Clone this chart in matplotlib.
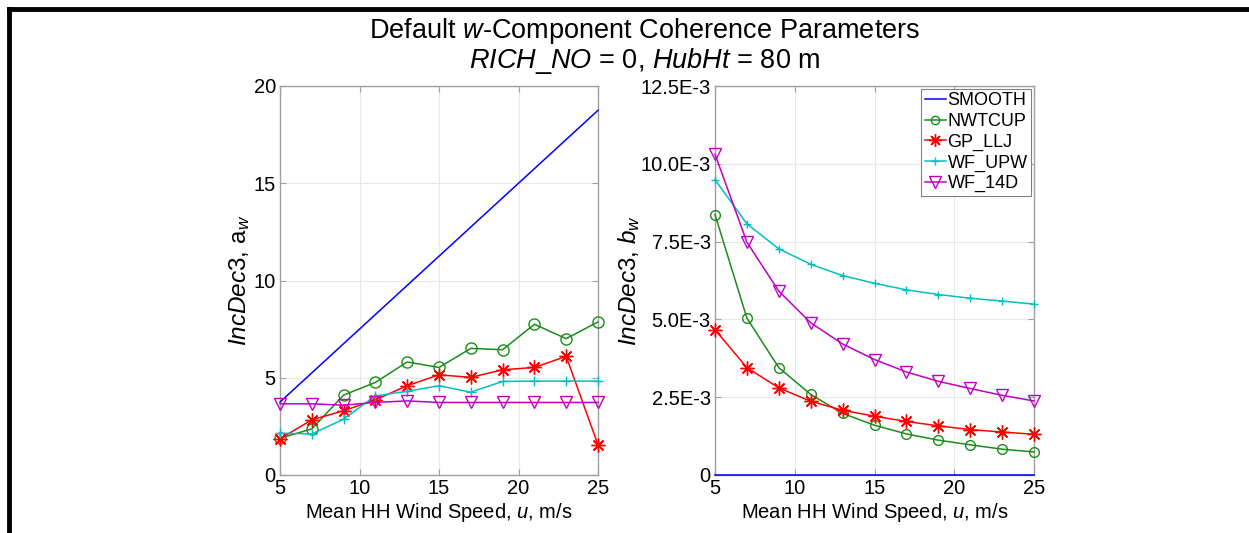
import matplotlib
matplotlib.use("Agg")
import matplotlib.pyplot as plt
from matplotlib.lines import Line2D
from matplotlib.ticker import FixedLocator, FuncFormatter

plt.rcParams['font.family'] = ['Liberation Sans', 'DejaVu Sans']
plt.rcParams['mathtext.fontset'] = 'custom'
plt.rcParams['mathtext.rm'] = 'Liberation Sans'
plt.rcParams['mathtext.it'] = 'Liberation Sans:italic'
plt.rcParams['mathtext.bf'] = 'Liberation Sans:bold'

# ---------------- data ----------------
wind_speed = [5, 7, 9, 11, 13, 15, 17, 19, 21, 23, 25]
series_names = ["SMOOTH", "NWTCUP", "GP_LLJ", "WF_UPW", "WF_14D"]

a_smooth = [3.75, 5.25, 6.75, 8.25, 9.75, 11.25, 12.75, 14.25, 15.75, 17.25, 18.75]
a_nwtcup = [1.89, 2.37, 4.11, 4.76, 5.81, 5.53, 6.51, 6.44, 7.75, 7.01, 7.87]
a_gp_llj = [1.86, 2.84, 3.30, 3.87, 4.59, 5.15, 5.02, 5.41, 5.53, 6.10, 1.55]
a_wf_upw = [2.15, 2.11, 2.87, 4.07, 4.30, 4.59, 4.26, 4.81, 4.83, 4.83, 4.83]
a_wf_14d = [3.66, 3.66, 3.59, 3.73, 3.81, 3.73, 3.73, 3.73, 3.73, 3.73, 3.73]

b_smooth = [0.0] * 11
b_nwtcup = [8.37e-3, 5.04e-3, 3.45e-3, 2.59e-3, 1.98e-3, 1.60e-3, 1.32e-3, 1.12e-3, 0.97e-3, 0.83e-3, 0.74e-3]
b_gp_llj = [4.67e-3, 3.45e-3, 2.80e-3, 2.37e-3, 2.08e-3, 1.89e-3, 1.72e-3, 1.58e-3, 1.46e-3, 1.38e-3, 1.31e-3]
b_wf_upw = [9.49e-3, 8.07e-3, 7.27e-3, 6.77e-3, 6.41e-3, 6.16e-3, 5.95e-3, 5.80e-3, 5.68e-3, 5.59e-3, 5.49e-3]
b_wf_14d = [10.31e-3, 7.48e-3, 5.91e-3, 4.89e-3, 4.21e-3, 3.71e-3, 3.31e-3, 3.01e-3, 2.78e-3, 2.56e-3, 2.38e-3]

x_ticks = [5, 10, 15, 20, 25]
a_ticks = [0, 5, 10, 15, 20]
b_ticks = [0, 2.5e-3, 5.0e-3, 7.5e-3, 10.0e-3, 12.5e-3]
b_tick_labels = ["0", "2.5E-3", "5.0E-3", "7.5E-3", "10.0E-3", "12.5E-3"]

# ---------------- styles ----------------
colors = ['#0000ff', '#1a8c1a', '#ff0000', '#00c0c0', '#c000c0']
markers = [None, 'o', (8, 2, 0), '+', 'v']

W, H = 1249, 533
fig = plt.figure(figsize=(W / 100, H / 100), dpi=100)

def px_axes(x0, x1, y0, y1):
    return fig.add_axes([x0 / W, 1 - y1 / H, (x1 - x0) / W, (y1 - y0) / H])

axL = px_axes(280, 598, 86, 475)
axR = px_axes(715, 1034, 86, 475)

spine_col = '#a0a0a0'
for ax in (axL, axR):
    for s in ax.spines.values():
        s.set_color(spine_col)
        s.set_linewidth(1.0)
    ax.tick_params(direction='in', top=True, right=True, length=4,
                   color=spine_col, labelsize=14.5, pad=3)
    ax.grid(True, color='#e8e8e8', linewidth=0.8)
    ax.set_axisbelow(True)
    ax.set_xlim(5, 25)
    ax.xaxis.set_major_locator(FixedLocator(x_ticks))
    ax.set_xlabel("Mean HH Wind Speed, $\\it{u}$, m/s", fontsize=14.5, labelpad=2)

a_series = [a_smooth, a_nwtcup, a_gp_llj, a_wf_upw, a_wf_14d]
b_series = [b_smooth, b_nwtcup, b_gp_llj, b_wf_upw, b_wf_14d]
msL = [0, 8, 10, 7, 9]
msR = [0, 7, 10, 6, 9]

for i, name in enumerate(series_names):
    axL.plot(wind_speed, a_series[i], color=colors[i], marker=markers[i],
             markersize=msL[i], markerfacecolor='none', markeredgewidth=1.0,
             linewidth=1.1, clip_on=False, zorder=3, label=name)
    axR.plot(wind_speed, b_series[i], color=colors[i], marker=markers[i],
             markersize=msR[i], markerfacecolor='none', markeredgewidth=1.0,
             linewidth=1.1, clip_on=False, zorder=3, label=name)

axL.set_ylim(0, 20)
axL.yaxis.set_major_locator(FixedLocator(a_ticks))
axL.set_ylabel("$\\it{IncDec3}$, a$_{\\it{w}}$", fontsize=17.5, labelpad=1)

axR.set_ylim(0, 12.5e-3)
axR.yaxis.set_major_locator(FixedLocator(b_ticks))
axR.yaxis.set_major_formatter(FuncFormatter(lambda v, p: b_tick_labels[p] if p is not None and p < len(b_tick_labels) else ""))
axR.set_ylabel("$\\it{IncDec3}$, $\\it{b}_{\\it{w}}$", fontsize=17.5, labelpad=-1)

handles = []
for i, name in enumerate(series_names):
    handles.append(Line2D([], [], color=colors[i], marker=markers[i],
                          markersize=[0, 6, 9, 6, 8][i], markerfacecolor='none',
                          markeredgewidth=1.0, linewidth=1.1, label=name))
leg = axR.legend(handles=handles, loc='upper right', fontsize=13,
                 handlelength=1.15, handletextpad=0.1, borderpad=0.2,
                 labelspacing=0.2, borderaxespad=0.15, fancybox=False,
                 framealpha=1.0)
leg.get_frame().set_edgecolor('#808080')
leg.get_frame().set_linewidth(0.8)

fig.text(645 / W, 1 - 31 / H, "Default $\\it{w}$-Component Coherence Parameters",
         ha='center', va='center', fontsize=19.5)
fig.text(645 / W, 1 - 61 / H, "$\\it{RICH\\_NO}$ = 0, $\\it{HubHt}$ = 80 m",
         ha='center', va='center', fontsize=19.5)

# figure frame (left and top black lines)
fig.add_artist(Line2D([9 / W, 9 / W], [0, 1 - 9 / H], color='black', linewidth=3.5,
                      transform=fig.transFigure, solid_capstyle='projecting'))
fig.add_artist(Line2D([9 / W, 1], [1 - 9 / H, 1 - 9 / H], color='black', linewidth=3.5,
                      transform=fig.transFigure, solid_capstyle='projecting'))

fig.savefig("out.png", dpi=100)
